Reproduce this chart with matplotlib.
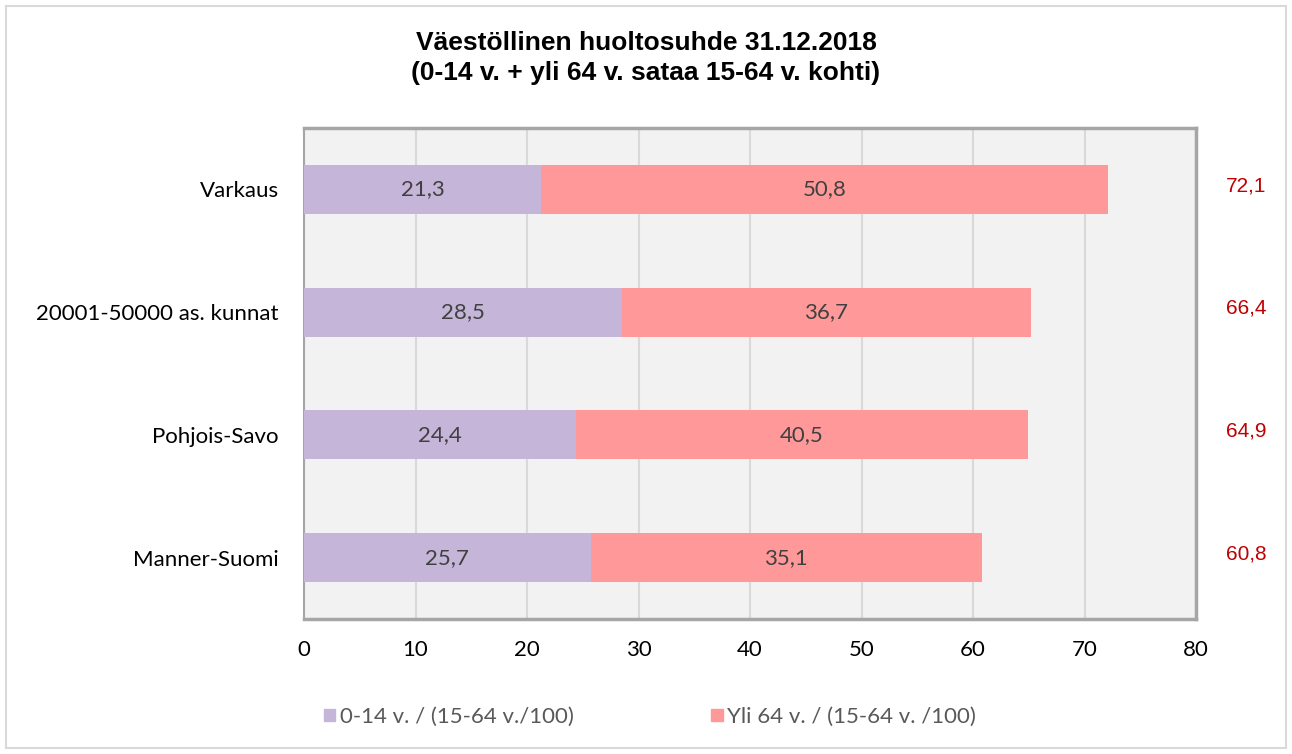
import numpy as np
import matplotlib.pyplot as plt
from matplotlib.patches import Rectangle, Patch

# data
alueet = ['Varkaus', '20001-50000 as. kunnat', 'Pohjois-Savo', 'Manner-Suomi']
lapset = [21.3, 28.5, 24.4, 25.7]      # 0-14 v. / (15-64 v./100)
vanhat = [50.8, 36.7, 40.5, 35.1]      # Yli 64 v. / (15-64 v. /100)
yhteensa = [72.1, 66.4, 64.9, 60.8]
sarjat = ['0-14 v. / (15-64 v./100)', 'Yli 64 v. / (15-64 v. /100)']

c_lila = '#c5b5d8'
c_puna = '#ff9999'
fontti = ['Lato', 'DejaVu Sans']
arial = ['Liberation Sans', 'DejaVu Sans']

fig = plt.figure(figsize=(12.92, 7.54), dpi=100)
fig.patches.append(Rectangle((6 / 1292, 6 / 754), 1280 / 1292, 742 / 754,
                             transform=fig.transFigure, fill=False,
                             edgecolor='#d9d9d9', linewidth=1.5))

ax = fig.add_axes([304 / 1292, 1 - 619 / 754, 892 / 1292, 491 / 754])
ax.set_facecolor('#f2f2f2')

y = np.arange(len(alueet))
ax.barh(y, lapset, height=0.4, color=c_lila, zorder=3)
ax.barh(y, vanhat, left=lapset, height=0.4, color=c_puna, zorder=3)

def fi(v):
    return f'{v:.1f}'.replace('.', ',')

for i in range(len(alueet)):
    ax.text(lapset[i] / 2, y[i], fi(lapset[i]), ha='center', va='center',
            fontsize=16, color='#404040', family=fontti, zorder=4)
    ax.text(lapset[i] + vanhat[i] / 2, y[i], fi(vanhat[i]), ha='center',
            va='center', fontsize=16, color='#404040', family=fontti, zorder=4)
    ax.text(84.5, y[i] - 0.03, fi(yhteensa[i]), ha='center', va='center',
            fontsize=15, color='#c00000', family=arial, clip_on=False)

ax.set_xlim(0, 80)
ax.set_ylim(len(alueet) - 0.5, -0.5)
ax.set_xticks(np.arange(0, 81, 10))
ax.set_yticks(y)
ax.set_yticklabels(alueet)
ax.grid(axis='x', color='#d9d9d9', linewidth=1.5, zorder=0)
ax.tick_params(length=0, labelsize=16)
for lab in ax.get_xticklabels() + ax.get_yticklabels():
    lab.set_family(fontti)
ax.tick_params(axis='x', pad=15)
ax.tick_params(axis='y', pad=18)

for s in ['top', 'right', 'bottom']:
    ax.spines[s].set_color('#a6a6a6')
    ax.spines[s].set_linewidth(2.5)
ax.spines['left'].set_color('#a6a6a6')
ax.spines['left'].set_linewidth(1.5)

fig.text(0.5, 1 - 43 / 754, 'Väestöllinen huoltosuhde 31.12.2018',
         ha='center', va='center', fontsize=19, fontweight='bold', family=arial)
fig.text(0.5, 1 - 73 / 754, '(0-14 v. + yli 64 v. sataa 15-64 v. kohti)',
         ha='center', va='center', fontsize=19, fontweight='bold', family=arial)

kahvat = [Patch(color=c_lila), Patch(color=c_puna)]
leg = fig.legend(kahvat, sarjat, loc='center', bbox_to_anchor=(650 / 1292, 1 - 717 / 754),
                 ncol=2, frameon=False, handlelength=0.5, handleheight=0.5,
                 handletextpad=0.2, columnspacing=6.2,
                 prop={'family': fontti, 'size': 16})
for t in leg.get_texts():
    t.set_color('#595959')

fig.savefig('out.png', dpi=100)
